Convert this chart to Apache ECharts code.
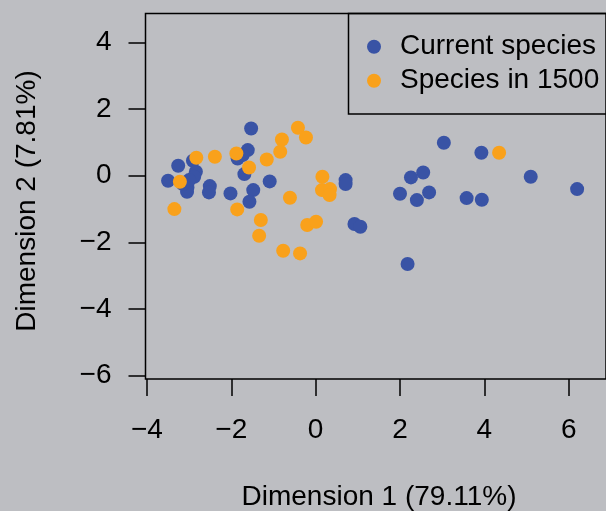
<!DOCTYPE html>
<html>
<head>
<meta charset="utf-8">
<script src="https://cdn.jsdelivr.net/npm/echarts@6/dist/echarts.min.js"></script>
<style>
html,body{margin:0;padding:0;background:#bdbec2;}
#chart{width:606px;height:511px;}
</style>
</head>
<body>
<div id="chart"></div>
<script>
// Current species (Dimension 1, Dimension 2)
const currentX = [3.04, 3.93, 5.10, 6.20, 2.55, 2.26, 2.00, 2.40, 2.69, 3.58, 3.94, 0.71, 0.71, 0.92, 1.06, 2.18,
  -1.53, -1.61, -1.85, -1.69, -1.73, -1.09, -1.48, -1.57, -2.02, -2.51, -2.53, -3.50, -3.26, -2.91, -2.84, -2.88, -3.04, -3.05, -3.00, -3.15];
const currentY = [0.99, 0.69, -0.03, -0.40, 0.10, -0.05, -0.54, -0.73, -0.50, -0.67, -0.72, -0.13, -0.25, -1.45, -1.53, -2.65,
  1.42, 0.77, 0.52, 0.05, 0.62, -0.17, -0.43, -0.78, -0.53, -0.31, -0.50, -0.15, 0.30, 0.45, 0.12, -0.03, -0.35, -0.48, -0.13, -0.25];
// Species in 1500
const pastX = [4.35, -0.42, -0.23, -0.80, -0.84, -1.16, -1.58, -1.88, -2.39, -2.83, -3.22, -3.35, -1.86, -1.30, -1.34, -0.77, -0.37, -0.61, -0.20, 0.01, 0.16, 0.15, 0.34, 0.33];
const pastY = [0.69, 1.44, 1.15, 1.09, 0.72, 0.49, 0.25, 0.67, 0.57, 0.54, -0.18, -1.00, -1.01, -1.33, -1.80, -2.25, -2.33, -0.66, -1.48, -1.38, -0.03, -0.43, -0.40, -0.58];
const xTicks = [-4, -2, 0, 2, 4, 6];
const yTicks = [-6, -4, -2, 0, 2, 4];
const seriesNames = ['Current species', 'Species in 1500'];
const xTitle = 'Dimension 1 (79.11%)';
const yTitle = 'Dimension 2 (7.81%)';

const FONT = 'Liberation Sans, Arial, Helvetica, sans-serif';
const FS = 28;
const chart = echarts.init(document.getElementById('chart'), null, {renderer: 'canvas'});
const pairs = (xs, ys) => xs.map((x, i) => [x, ys[i]]);
const fmt = v => (v < 0 ? '\u2212' + Math.abs(v) : String(v));

chart.setOption({
  backgroundColor: '#bdbec2',
  animation: false,
  grid: {left: 145.5, top: 13.5, right: -6, bottom: 132, show: true, borderColor: '#000', borderWidth: 1.5, backgroundColor: 'transparent'},
  xAxis: {
    type: 'value', min: -4.035, max: 6.885,
    splitLine: {show: false},
    axisLine: {show: false, onZero: false},
    axisTick: {show: true, length: 17, customValues: xTicks, lineStyle: {color: '#000', width: 1.5}},
    axisLabel: {customValues: xTicks, formatter: fmt, color: '#000', fontSize: FS, fontFamily: FONT, margin: 37}
  },
  yAxis: {
    type: 'value', min: -6.1, max: 4.87,
    splitLine: {show: false},
    axisLine: {show: false, onZero: false},
    axisTick: {show: true, length: 17, customValues: yTicks, lineStyle: {color: '#000', width: 1.5}},
    axisLabel: {customValues: yTicks, formatter: fmt, color: '#000', fontSize: FS, fontFamily: FONT, margin: 34}
  },
  legend: {
    orient: 'vertical', left: 367, top: 32.7, itemGap: 6, padding: 0,
    icon: 'circle', itemWidth: 14, itemHeight: 14,
    textStyle: {color: '#000', fontSize: FS, fontFamily: FONT, lineHeight: 28, padding: [0, 0, 0, 14]},
    data: seriesNames
  },
  series: [
    {name: seriesNames[0], type: 'scatter', symbolSize: 14, itemStyle: {color: '#3953a5', opacity: 1}, data: pairs(currentX, currentY)},
    {name: seriesNames[1], type: 'scatter', symbolSize: 14, itemStyle: {color: '#f9a11b', opacity: 1}, data: pairs(pastX, pastY)}
  ],
  graphic: [
    {type: 'rect', shape: {x: 348.5, y: 13.5, width: 300, height: 100.5}, style: {fill: 'transparent', stroke: '#000', lineWidth: 1.5}, z: 1},
    {type: 'text', x: 379, y: 497, style: {text: xTitle, fill: '#000', font: FS + 'px ' + FONT, textAlign: 'center', textVerticalAlign: 'middle'}},
    {type: 'text', x: 27, y: 201, rotation: Math.PI / 2, style: {text: yTitle, fill: '#000', font: FS + 'px ' + FONT, textAlign: 'center', textVerticalAlign: 'middle'}}
  ]
});
</script>
</body>
</html>
